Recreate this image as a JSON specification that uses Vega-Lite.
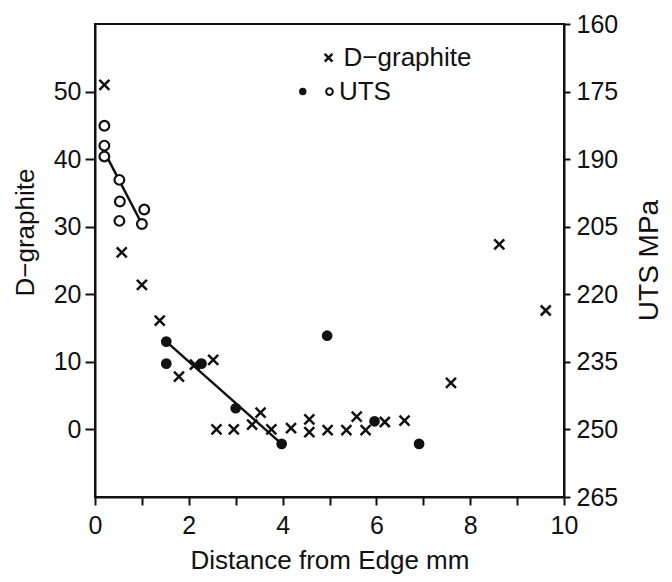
{
  "$schema": "https://vega.github.io/schema/vega-lite/v6.json",
  "autosize": {"type": "none"},
  "padding": {"left": 95, "top": 24, "right": 108, "bottom": 85},
  "width": 469,
  "height": 473,
  "config": {
    "font": "Liberation Sans",
    "view": {"stroke": "#111", "strokeWidth": 2},
    "axis": {
      "domainColor": "#111", "domainWidth": 2, "tickColor": "#111", "tickWidth": 2,
      "labelColor": "#111", "titleColor": "#111", "labelFontSize": 25, "titleFontSize": 26,
      "titleFontWeight": "normal", "grid": false, "labelFont": "Liberation Sans", "titleFont": "Liberation Sans"
    }
  },
  "datasets": {
    "pts": [
      {"series": "D-graphite", "x": 0.2, "value": 51},
      {"series": "D-graphite", "x": 0.57, "value": 26.2},
      {"series": "D-graphite", "x": 1.0, "value": 21.4},
      {"series": "D-graphite", "x": 1.38, "value": 16.1},
      {"series": "D-graphite", "x": 1.79, "value": 7.8},
      {"series": "D-graphite", "x": 2.13, "value": 9.6},
      {"series": "D-graphite", "x": 2.52, "value": 10.3},
      {"series": "D-graphite", "x": 2.59, "value": 0},
      {"series": "D-graphite", "x": 2.96, "value": 0},
      {"series": "D-graphite", "x": 3.35, "value": 0.7},
      {"series": "D-graphite", "x": 3.53, "value": 2.5},
      {"series": "D-graphite", "x": 3.76, "value": 0},
      {"series": "D-graphite", "x": 4.18, "value": 0.2},
      {"series": "D-graphite", "x": 4.57, "value": 1.5},
      {"series": "D-graphite", "x": 4.57, "value": -0.4},
      {"series": "D-graphite", "x": 4.96, "value": -0.1},
      {"series": "D-graphite", "x": 5.36, "value": -0.1},
      {"series": "D-graphite", "x": 5.58, "value": 1.9},
      {"series": "D-graphite", "x": 5.77, "value": -0.1},
      {"series": "D-graphite", "x": 6.18, "value": 1.1},
      {"series": "D-graphite", "x": 6.6, "value": 1.3},
      {"series": "D-graphite", "x": 7.59, "value": 6.9},
      {"series": "D-graphite", "x": 8.62, "value": 27.4},
      {"series": "D-graphite", "x": 9.61, "value": 17.6},
      {"series": "UTS open", "x": 0.2, "value": 182.6},
      {"series": "UTS open", "x": 0.2, "value": 187},
      {"series": "UTS open", "x": 0.2, "value": 189.4},
      {"series": "UTS open", "x": 0.52, "value": 194.6},
      {"series": "UTS open", "x": 0.53, "value": 199.4},
      {"series": "UTS open", "x": 0.52, "value": 203.7},
      {"series": "UTS open", "x": 1.05, "value": 201.2},
      {"series": "UTS open", "x": 1.0, "value": 204.4},
      {"series": "UTS filled", "x": 1.52, "value": 230.5},
      {"series": "UTS filled", "x": 1.52, "value": 235.4},
      {"series": "UTS filled", "x": 2.27, "value": 235.4},
      {"series": "UTS filled", "x": 3.0, "value": 245.3},
      {"series": "UTS filled", "x": 3.98, "value": 253.2},
      {"series": "UTS filled", "x": 4.95, "value": 229.2},
      {"series": "UTS filled", "x": 5.96, "value": 248.2},
      {"series": "UTS filled", "x": 6.91, "value": 253.2}
    ],
    "fit": [
      {"seg": "open", "x": 0.2, "value": 188.4},
      {"seg": "open", "x": 1.0, "value": 204.4},
      {"seg": "filled", "x": 1.52, "value": 230.5},
      {"seg": "filled", "x": 3.98, "value": 253.2}
    ]
  },
  "layer": [
    {
      "layer": [
        {
          "data": {"name": "pts"},
          "transform": [{"filter": "datum.series === 'D-graphite'"}],
          "mark": {"type": "point", "shape": "M-1,-1L1,1M-1,1L1,-1", "filled": false, "stroke": "#111", "strokeWidth": 2.5, "size": 100, "opacity": 1},
          "encoding": {
            "x": {
              "field": "x", "type": "quantitative",
              "scale": {"domain": [0, 10], "nice": false, "zero": false},
              "axis": {
                "values": [0, 1, 2, 3, 4, 5, 6, 7, 8, 9, 10],
                "labelExpr": "datum.value % 2 === 0 ? datum.label : ''",
                "tickSize": 8, "labelPadding": 8, "labelFlush": false,
                "title": "Distance from Edge mm", "titlePadding": 9
              }
            },
            "y": {
              "field": "value", "type": "quantitative",
              "scale": {"domain": [-10, 60], "nice": false, "zero": false},
              "axis": {"orient": "left", "values": [0, 10, 20, 30, 40, 50], "tickSize": 10, "labelPadding": 4, "title": "D−graphite", "titleX": -70, "titleY": 208, "titleBaseline": "middle", "titleAngle": 270}
            }
          }
        },
        {
          "data": {"values": [{}]},
          "mark": {"type": "point", "shape": "M-1,-1L1,1M-1,1L1,-1", "filled": false, "stroke": "#111", "strokeWidth": 2.5, "size": 60, "opacity": 1},
          "encoding": {"x": {"datum": 4.98}, "y": {"datum": 55}}
        },
        {
          "data": {"values": [{}]},
          "mark": {"type": "text", "text": "D−graphite", "align": "left", "baseline": "middle", "fontSize": 26, "color": "#111"},
          "encoding": {"x": {"datum": 5.3}, "y": {"datum": 55}}
        },
        {
          "data": {"values": [{}]},
          "mark": {"type": "point", "shape": "circle", "filled": true, "color": "#111", "size": 55, "opacity": 1},
          "encoding": {"x": {"datum": 4.43}, "y": {"datum": 50}}
        },
        {
          "data": {"values": [{}]},
          "mark": {"type": "point", "shape": "circle", "filled": false, "stroke": "#111", "strokeWidth": 2, "size": 45, "opacity": 1},
          "encoding": {"x": {"datum": 5.0}, "y": {"datum": 50}}
        },
        {
          "data": {"values": [{}]},
          "mark": {"type": "text", "text": "UTS", "align": "left", "baseline": "middle", "fontSize": 26, "color": "#111"},
          "encoding": {"x": {"datum": 5.2}, "y": {"datum": 50}}
        }
      ]
    },
    {
      "layer": [
        {
          "data": {"name": "fit"},
          "mark": {"type": "line", "color": "#111", "strokeWidth": 2.5},
          "encoding": {
            "x": {"field": "x", "type": "quantitative"},
            "y": {
              "field": "value", "type": "quantitative",
              "scale": {"domain": [160, 265], "reverse": true, "nice": false, "zero": false},
              "axis": {"orient": "right", "values": [160, 175, 190, 205, 220, 235, 250, 265], "tickSize": 6, "labelPadding": 6, "title": "UTS MPa", "titleFontSize": 28, "titleAngle": 270, "titleX": 85, "titleY": 236, "titleBaseline": "middle"}
            },
            "detail": {"field": "seg"}
          }
        },
        {
          "data": {"name": "pts"},
          "transform": [{"filter": "datum.series === 'UTS open'"}],
          "mark": {"type": "point", "shape": "circle", "filled": false, "fill": "white", "stroke": "#111", "strokeWidth": 2.2, "size": 95, "opacity": 1},
          "encoding": {
            "x": {"field": "x", "type": "quantitative"},
            "y": {"field": "value", "type": "quantitative"}
          }
        },
        {
          "data": {"name": "pts"},
          "transform": [{"filter": "datum.series === 'UTS filled'"}],
          "mark": {"type": "point", "shape": "circle", "filled": true, "color": "#111", "size": 115, "opacity": 1},
          "encoding": {
            "x": {"field": "x", "type": "quantitative"},
            "y": {"field": "value", "type": "quantitative"}
          }
        }
      ]
    }
  ],
  "resolve": {"scale": {"y": "independent"}}
}
